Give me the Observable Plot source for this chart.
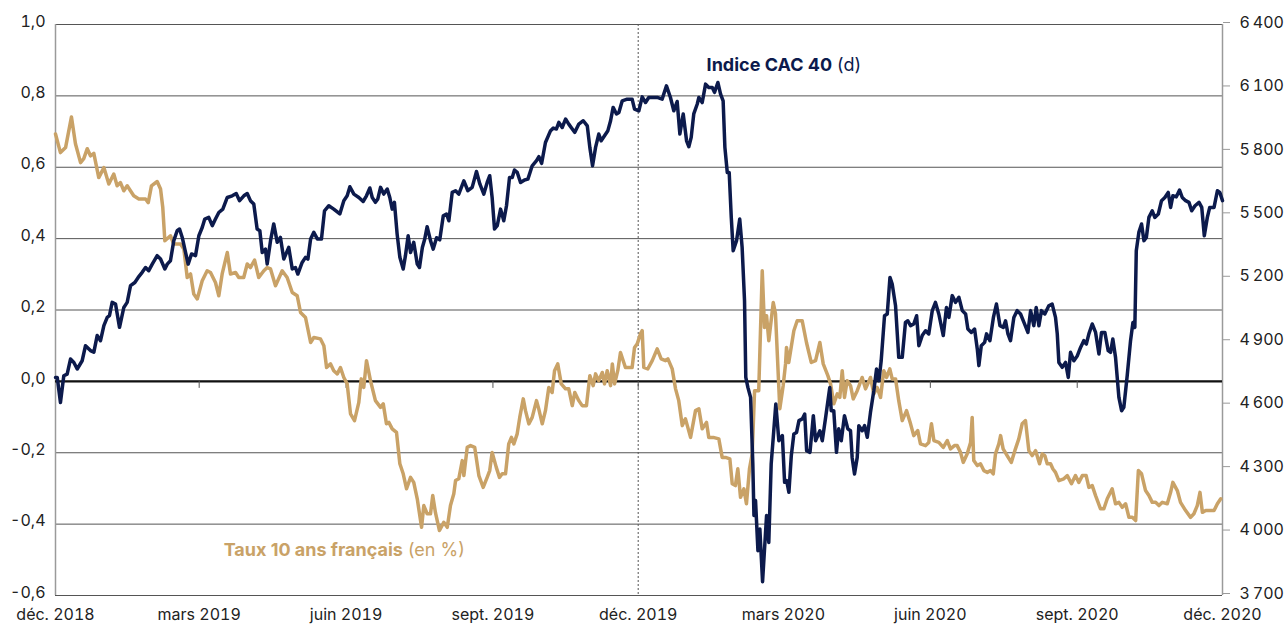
<!DOCTYPE html>
<html>
<head>
<meta charset="utf-8">
<script src="https://cdn.jsdelivr.net/npm/d3@7"></script>
<script src="https://cdn.jsdelivr.net/npm/@observablehq/plot@0.6"></script>
<style>
  html, body { margin: 0; padding: 0; background: #ffffff; }
  #chart svg { display: block; }
</style>
</head>
<body>
<div id="chart"></div>
<script>
// ---------- data ----------
const xStart = "2018-12-01";
const xEnd = "2020-12-01";
const dashedDate = "2019-12-01";
const quarterDates = ["2018-12-01","2019-03-01","2019-06-01","2019-09-01","2019-12-01","2020-03-01","2020-06-01","2020-09-01","2020-12-01"];
const quarterLabels = ["déc. 2018","mars 2019","juin 2019","sept. 2019","déc. 2019","mars 2020","juin 2020","sept. 2020","déc. 2020"];
const leftTicks = [-0.6, -0.4, -0.2, 0, 0.2, 0.4, 0.6, 0.8, 1.0];
const rightTicks = [3700, 4000, 4300, 4600, 4900, 5200, 5500, 5800, 6100, 6400];
const leftDomain = [-0.6, 1.0];
const rightDomain = [3700, 6400];

// [days since 1 Dec 2018, French 10-year rate in %]
const rateSeries = [[0,0.693],[3.1,0.641],[6.3,0.655],[10,0.741],[12.5,0.666],[15.7,0.613],[17.7,0.624],[19.9,0.652],[21.9,0.632],[24,0.639],[27.1,0.571],[30.3,0.599],[33.4,0.553],[36.5,0.581],[38.6,0.548],[40.7,0.557],[42.8,0.534],[44.9,0.548],[49,0.52],[52.2,0.511],[56.4,0.511],[58.1,0.501],[60.1,0.548],[63.7,0.56],[65.8,0.539],[67.2,0.487],[68.5,0.394],[72,0.408],[74.1,0.385],[78.3,0.385],[80.4,0.371],[82.5,0.291],[84.6,0.301],[86.6,0.245],[88.8,0.231],[91.9,0.282],[95,0.31],[97.1,0.305],[100.2,0.277],[102.3,0.24],[104.4,0.301],[107.6,0.361],[109.6,0.301],[112.8,0.305],[114.8,0.291],[117.9,0.291],
[120.1,0.329],[122.1,0.319],[124.7,0.34],[127.3,0.291],[130.5,0.31],[132.6,0.319],[134.7,0.315],[137.8,0.268],[139.2,0.282],[142,0.31],[145.1,0.291],[148.3,0.249],[151.4,0.24],[153.5,0.193],[156.6,0.179],[159.8,0.109],[161.8,0.123],[166,0.119],[168.1,0.1],[169.8,0.039],[172.3,0.049],[174.3,0.03],[176.5,0.021],[178.5,0.039],[180.6,0.011],[182.7,-0.007],[184.8,-0.091],[187.3,-0.11],[190,-0.059],[191.5,0.007],[193.1,-0.017],[194.8,0.058],[197.3,0.002],[200.4,-0.054],[203.6,-0.073],[205.3,-0.063],[207.3,-0.119],[208.8,-0.115],[210.9,-0.133],[213.6,-0.143],[215.7,-0.231],[217.8,-0.259],[219.9,-0.301],[222.4,-0.269],[224.4,-0.283],[226.6,-0.329],[229.3,-0.409],[230.7,-0.348],[232.8,-0.371],[234.9,-0.371],[236.3,-0.32],[238,-0.368],[240.5,-0.418],[243.2,-0.395],[245.4,-0.409],[247.4,-0.348],[249.5,-0.315],[250.6,-0.278],[252.6,-0.273],[254.8,-0.222],[255.8,-0.264],[257.9,-0.185],[260,-0.18],[262.6,-0.185],[265.2,-0.264],[267.9,-0.297],[270.4,-0.269],[272,-0.25],[273.5,-0.199],[276.1,-0.241],[278.1,-0.269],[279.8,-0.259],[281.9,-0.259],[283.9,-0.175],[285.6,-0.157],[287.1,-0.175],[289.2,-0.147],[290.8,-0.101],[293,-0.049],[294.4,-0.082],[296.5,-0.119],[298.6,-0.101],[301.3,-0.054],[302.7,-0.077],[304.9,-0.119],[306.9,-0.082],[309,-0.017],[311.1,-0.031],[312.6,0.03],[314.6,0.049],[316.8,-0.007],[319.5,-0.021],[321.5,-0.021],[323.7,-0.068],[325.3,-0.031],[327.8,-0.054],[329.9,-0.068],[332.6,-0.068],[334.7,0.016],[336.8,-0.012],[338.3,0.021],[340.3,0.002],[342.5,0.025],[343.9,-0.007],[345.6,0.03],[347.7,-0.012],[348.8,0.049],[350.2,-0.007],[352.2,0.03],[353.9,0.081],[357,0.039],[361.2,0.039],[362.7,0.095],[364.4,0.105],[366.4,0.133],[367.5,0.142],[368.5,0.039],[371,0.035],[373.8,0.058],[376.9,0.091],[379.4,0.063],[382.1,0.058],[383.6,0.063],[386.3,0.035],[388.4,-0.021],[390.4,-0.054],[392.6,-0.124],[394.6,-0.105],[397.8,-0.157],[400.9,-0.082],[403,-0.077],[405.1,-0.133],[407.8,-0.115],[409.2,-0.157],[412,-0.157],[415.5,-0.161],[417.6,-0.213],[419.7,-0.213],[422.4,-0.217],[423.9,-0.287],[425.9,-0.292],[427.4,-0.245],[429.1,-0.325],[431.2,-0.301],[432.8,-0.343],[434.7,-0.245],[436.4,-0.203],[437.9,-0.026],[440.5,-0.026],[442.7,0.31],[444.1,0.151],[445.4,0.184],[446.8,0.114],[449.6,0.221],[451,0.189],[453.7,-0.077],[455.8,-0.012],[457.3,0.049],[457.9,0.095],[459.3,0.053],[462.5,0.142],[464.6,0.17],[467.7,0.17],[470.4,0.109],[473.4,0.053],[476.1,0.058],[478.8,0.109],[480.9,0.049],[483.8,0.016],[485.5,-0.007],[487.5,-0.063],[489.7,-0.035],[491.3,-0.045],[492.8,0.03],[494.2,-0.045],[495.9,0.002],[498,-0.012],[499.7,-0.049],[502.2,-0.026],[505.3,0.011],[507.4,-0.021],[510.5,0.011],[512.6,-0.035],[514.7,-0.017],[516.8,-0.045],[518.8,0.03],[520.6,0.011],[522.6,0.035],[524.1,0.007],[526.2,0.007],[528.2,-0.054],[530.4,-0.11],[533.1,-0.082],[535.6,-0.119],[537.6,-0.152],[540.1,-0.138],[541.8,-0.175],[545,-0.18],[547,-0.171],[548.7,-0.119],[550.2,-0.166],[553.3,-0.171],[556.1,-0.185],[558.6,-0.166],[560.6,-0.189],[563.1,-0.18],[564.8,-0.18],[566.9,-0.199],[568.6,-0.227],[571.1,-0.203],[573.2,-0.171],[574.2,-0.101],[575.2,-0.222],[577.4,-0.236],[579.4,-0.231],[581.5,-0.25],[583.7,-0.255],[585.7,-0.25],[587.4,-0.259],[588.8,-0.203],[590.9,-0.175],[592,-0.152],[593.6,-0.189],[596.1,-0.208],[598.7,-0.227],[601.3,-0.189],[603.4,-0.161],[605.5,-0.119],[607.6,-0.11],[609.7,-0.194],[611.8,-0.208],[613.9,-0.194],[616.4,-0.231],[618.1,-0.203],[619.7,-0.208],[621.2,-0.231],[623.3,-0.231],[624.7,-0.245],[626.4,-0.255],[628.5,-0.278],[631.6,-0.273],[633.8,-0.264],[636.4,-0.287],[638.9,-0.264],[641,-0.283],[643.2,-0.264],[645.6,-0.264],[647.3,-0.297],[649.4,-0.292],[651.5,-0.32],[654.6,-0.357],[656.7,-0.357],[658.8,-0.329],[661.9,-0.301],[664,-0.343],[666.1,-0.339],[668.2,-0.353],[670.3,-0.343],[672.4,-0.381],[674.5,-0.381],[676.6,-0.39],[678.3,-0.25],[680.3,-0.259],[682.8,-0.306],[684.9,-0.32],[687,-0.339],[689.1,-0.339],[691.2,-0.348],[693.3,-0.339],[696.4,-0.343],[698.5,-0.311],[699.9,-0.283],[702.7,-0.306],[704.7,-0.339],[707.9,-0.362],[711,-0.381],[713.1,-0.371],[715.2,-0.348],[716.9,-0.311],[718.4,-0.367],[720.5,-0.362],[722.6,-0.362],[725.7,-0.362],[727.8,-0.343],[729.9,-0.329]];

// [days since 1 Dec 2018, CAC 40 index level]
const cacSeries = [[0,4731],[1.1,4731],[3.1,4613],[5.2,4739],[7.3,4747],[9.4,4818],[11.5,4802],[13.6,4771],[16.7,4810],[18.8,4881],[21.9,4858],[24,4850],[26.1,4929],[28.2,4905],[30.3,4976],[32.4,5015],[33.8,5023],[35.5,5086],[37.6,5078],[40.1,4968],[42.8,5062],[44.9,5086],[47,5165],[49.7,5180],[51.8,5204],[54.3,5228],[56.4,5251],[58.4,5236],[60.6,5267],[63.7,5307],[65.8,5291],[68.5,5244],[70,5267],[72,5283],[74.1,5378],[76.2,5425],[77.7,5433],[79.4,5393],[81,5338],[83.1,5267],[85.2,5315],[87.7,5307],[89.8,5401],[91.9,5440],[93.5,5480],[96,5488],[98.2,5449],[100.2,5480],[102.3,5511],[104.8,5527],[107.6,5582],[110.7,5590],[113.2,5601],[115.3,5567],[118,5590],[120.1,5601],[122.1,5567],[124.2,5551],[126.3,5433],[128,5425],[129.5,5322],[131.5,5338],[132.6,5267],[134.7,5378],[136.7,5457],[138.9,5370],[140.9,5393],[143,5291],[146.1,5346],[148.3,5244],[150.3,5251],[151.8,5220],[154.5,5275],[156.6,5299],[158.1,5291],[159.8,5386],[161.8,5417],[164,5386],[166.6,5386],[168.5,5519],[171.2,5543],[174.3,5527],[178.1,5504],[180.6,5567],[182.7,5590],[184.4,5633],[186.9,5598],[190,5582],[192.7,5563],[194.8,5590],[196.9,5627],[198.4,5582],[200.4,5559],[201.9,5575],[203.6,5630],[205.6,5598],[207.8,5622],[209.4,5582],[210.9,5527],[212.3,5559],[214,5409],[215.7,5299],[217.8,5244],[219.2,5307],[220.9,5401],[222.4,5322],[224.4,5370],[226.6,5267],[228,5251],[229.8,5346],[231.3,5386],[232.8,5444],[234.9,5378],[236.6,5338],[238.7,5392],[240.7,5382],[242.9,5496],[244.9,5504],[246.4,5472],[248.5,5606],[250.6,5614],[252.6,5598],[255.8,5661],[258.3,5614],[261,5630],[263.7,5705],[265.8,5646],[268.3,5598],[270.4,5653],[272,5685],[273.5,5582],[275,5433],[276.7,5449],[278.8,5527],[280.8,5472],[282.5,5543],[284.4,5677],[286.1,5677],[287.5,5712],[289.2,5701],[291.3,5653],[293.8,5665],[295.9,5669],[298.6,5732],[301.3,5756],[302.8,5775],[304.5,5743],[306.9,5842],[310.1,5898],[311.8,5910],[313.8,5906],[315.3,5937],[317.4,5913],[319.5,5953],[321.5,5929],[323.7,5906],[325.3,5890],[327.8,5929],[330.6,5945],[333.1,5921],[334.7,5819],[336.4,5732],[338.3,5819],[340.3,5882],[341.8,5850],[343.9,5874],[346,5898],[347.7,5945],[349.3,6008],[351.4,5977],[352.9,5984],[355,6039],[358.1,6047],[361.2,6047],[362.7,6000],[365.4,5992],[367.5,6058],[369.6,6031],[371.6,6055],[373.8,6055],[376.9,6055],[380,6047],[382.7,6110],[385.2,6055],[387.3,5992],[389.4,6036],[391.1,5882],[393.2,5977],[395.3,5850],[396.7,5822],[398.2,5866],[399.8,5977],[402,6024],[403,6055],[405.1,6031],[407.2,6118],[409.2,6102],[411.4,6102],[412.8,6079],[414.9,6126],[416.6,6071],[418.2,6039],[419.3,5819],[420.8,5700],[422,5700],[423.3,5488],[424.5,5330],[426.6,5378],[428.6,5480],[430.1,5346],[431.6,5094],[432.4,4731],[433.7,4684],[435.4,4637],[436.8,4322],[437.5,4078],[438.5,4149],[440,3912],[441.2,4015],[442.9,3765],[445.4,4078],[446.8,3951],[448.3,4322],[449.6,4448],[451.2,4606],[453.1,4432],[455.3,4456],[456.7,4235],[458,4243],[459.4,4188],[460.9,4361],[462.5,4464],[464.2,4471],[465.7,4527],[467.8,4535],[469.3,4558],[470.5,4385],[472.6,4377],[474.7,4550],[476.1,4432],[478.8,4479],[480.3,4432],[482.4,4542],[485,4684],[485.9,4574],[487.5,4574],[489.2,4377],[490.6,4488],[492.2,4432],[494.2,4550],[496.3,4488],[498,4479],[499,4353],[500.5,4275],[502.2,4353],[503.2,4503],[505.3,4479],[506.8,4503],[508.5,4448],[510.5,4566],[512.6,4669],[514.3,4771],[515.8,4716],[517.2,4810],[519.3,5023],[521,5031],[522.7,5204],[524.1,5173],[526.2,5070],[528.2,4826],[530.4,4826],[532.4,4991],[533.9,4999],[535.6,4976],[537.6,4984],[539.4,5023],[540.8,4881],[542.9,4929],[545,4952],[547,4937],[549.2,5047],[551.2,5086],[553.3,5031],[556.1,4929],[558.1,5062],[559.6,5015],[561.7,5118],[563.8,5086],[565.9,5110],[568,5047],[570.1,5031],[571.5,4960],[573.7,4944],[575.7,4960],[577.4,4866],[578.4,4787],[579.9,4881],[582,4897],[583.2,4937],[585.3,4905],[587.5,5015],[589.4,5078],[591.6,4976],[593.7,4968],[595.1,4999],[596.6,4937],[598.2,4905],[600.3,5015],[602.4,5047],[604.5,5031],[607,4984],[609.1,4944],[610.8,5047],[612.8,4976],[614.3,5062],[616,4976],[617.6,5047],[619.7,5031],[622.2,5070],[624.3,5078],[626.4,5015],[627.5,4937],[628.5,4802],[630.6,4779],[632.7,4802],[634.4,4731],[635.8,4850],[637.9,4810],[640.1,4834],[642.1,4873],[644.1,4905],[645.7,4889],[647.3,4937],[649.4,4984],[651.5,4944],[653.6,4842],[655.2,4944],[657.3,4944],[659.4,4858],[660.9,4850],[662.3,4913],[664,4826],[666.1,4637],[667.8,4574],[669.2,4590],[671.3,4739],[673.4,4905],[674.9,4991],[676.1,4968],[677,5330],[678.6,5417],[680.3,5457],[681.8,5378],[683.3,5393],[684.9,5488],[687,5519],[688.6,5488],[690.8,5504],[692.8,5567],[694.9,5582],[697,5606],[698.5,5535],[699.9,5590],[702.1,5585],[704.1,5617],[705.8,5582],[707.9,5567],[710,5559],[711.7,5519],[713.8,5543],[716.3,5559],[718,5535],[719.6,5401],[721.5,5488],[723,5535],[725.7,5535],[727.8,5614],[729.3,5606],[731,5567]];

// series labels: [bold part, regular part, anchor day, anchor value (left scale)]
const cacLabel = ["Indice CAC 40", "(d)", 488.0, 0.887];
const rateLabel = ["Taux 10 ans français", "(en %)", 219.2, -0.472];

// ---------- helpers ----------
const navy = "#0c1a4c";
const tan = "#c9a267";
const dayMs = 86400000;
const t0 = new Date(xStart).getTime();
const dayToDate = d => new Date(t0 + d * dayMs);
const toLeft = v => leftDomain[0] + (v - rightDomain[0]) / (rightDomain[1] - rightDomain[0]) * (leftDomain[1] - leftDomain[0]);
const fromLeft = y => rightDomain[0] + (y - leftDomain[0]) / (leftDomain[1] - leftDomain[0]) * (rightDomain[1] - rightDomain[0]);
const fr = d3.formatLocale({decimal: ",", thousands: "\u202f", grouping: [3], currency: ["", " €"]});
const fmtInt = fr.format(",d");
const qDates = quarterDates.map(s => new Date(s));
const qLabelMap = new Map(qDates.map((d, i) => [+d, quarterLabels[i]]));

const rateData = rateSeries.map(([d, v]) => ({date: dayToDate(d), value: v}));
const cacData = cacSeries.map(([d, v]) => ({date: dayToDate(d), value: v}));

const chart = Plot.plot({
  width: 1287,
  height: 626,
  marginLeft: 55,
  marginRight: 65,
  marginTop: 24,
  marginBottom: 31,
  style: {fontFamily: "Inter, 'Open Sans', sans-serif", fontSize: "16px", color: "#222", background: "#fff"},
  x: {type: "utc", domain: [new Date(xStart), new Date(xEnd)], label: null},
  y: {domain: leftDomain, label: null},
  marks: [
    Plot.gridY(leftTicks, {stroke: "#555", strokeOpacity: 1, strokeWidth: 1}),
    Plot.ruleX([new Date(xStart)], {stroke: "#9a9a9a", strokeWidth: 1.5}),
    Plot.ruleX([new Date(xEnd)], {stroke: "#9a9a9a", strokeWidth: 1.5}),
    Plot.ruleX([new Date(dashedDate)], {stroke: "#555", strokeWidth: 1, strokeDasharray: "2,2"}),
    Plot.ruleY([0], {stroke: "#111", strokeWidth: 2.2}),
    Plot.ruleX(qDates.slice(1, -1), {y1: 0, y2: 0, insetBottom: -7, stroke: "#555", strokeWidth: 1}),
    Plot.axisY(leftTicks, {anchor: "left", tickSize: 0, tickPadding: 10, label: null, dy: -3,
      tickFormat: d => d.toFixed(1).replace(".", ","), fill: "#222", fontSize: 16}),
    Plot.axisY(rightTicks.map(toLeft), {anchor: "right", tickSize: 7, tickPadding: 10, label: null, dy: -2,
      stroke: "#9a9a9a", fill: "#222", fontSize: 16,
      tickFormat: d => fmtInt(Math.round(fromLeft(d)))}),
    Plot.axisX(qDates, {anchor: "bottom", tickSize: 0, tickPadding: 13, label: null,
      fill: "#222", fontSize: 16, tickFormat: d => qLabelMap.get(+d)}),
    Plot.line(rateData, {x: "date", y: "value", stroke: tan, strokeWidth: 3.5, strokeLinejoin: "round", strokeLinecap: "round"}),
    Plot.line(cacData, {x: "date", y: d => toLeft(d.value), stroke: navy, strokeWidth: 3.5, strokeLinejoin: "round", strokeLinecap: "round"}),
    Plot.text([cacLabel], {x: d => dayToDate(d[2]), y: d => d[3], text: d => d[0], textAnchor: "end", dx: -2.5,
      fill: navy, fontWeight: "bold", fontSize: 18}),
    Plot.text([cacLabel], {x: d => dayToDate(d[2]), y: d => d[3], text: d => d[1], textAnchor: "start", dx: 2.5,
      fill: navy, fontWeight: "normal", fontSize: 18}),
    Plot.text([rateLabel], {x: d => dayToDate(d[2]), y: d => d[3], text: d => d[0], textAnchor: "end", dx: -2.5,
      fill: tan, fontWeight: "bold", fontSize: 18}),
    Plot.text([rateLabel], {x: d => dayToDate(d[2]), y: d => d[3], text: d => d[1], textAnchor: "start", dx: 2.5,
      fill: tan, fontWeight: "normal", fontSize: 18})
  ]
});
document.getElementById("chart").appendChild(chart);
</script>
</body>
</html>
